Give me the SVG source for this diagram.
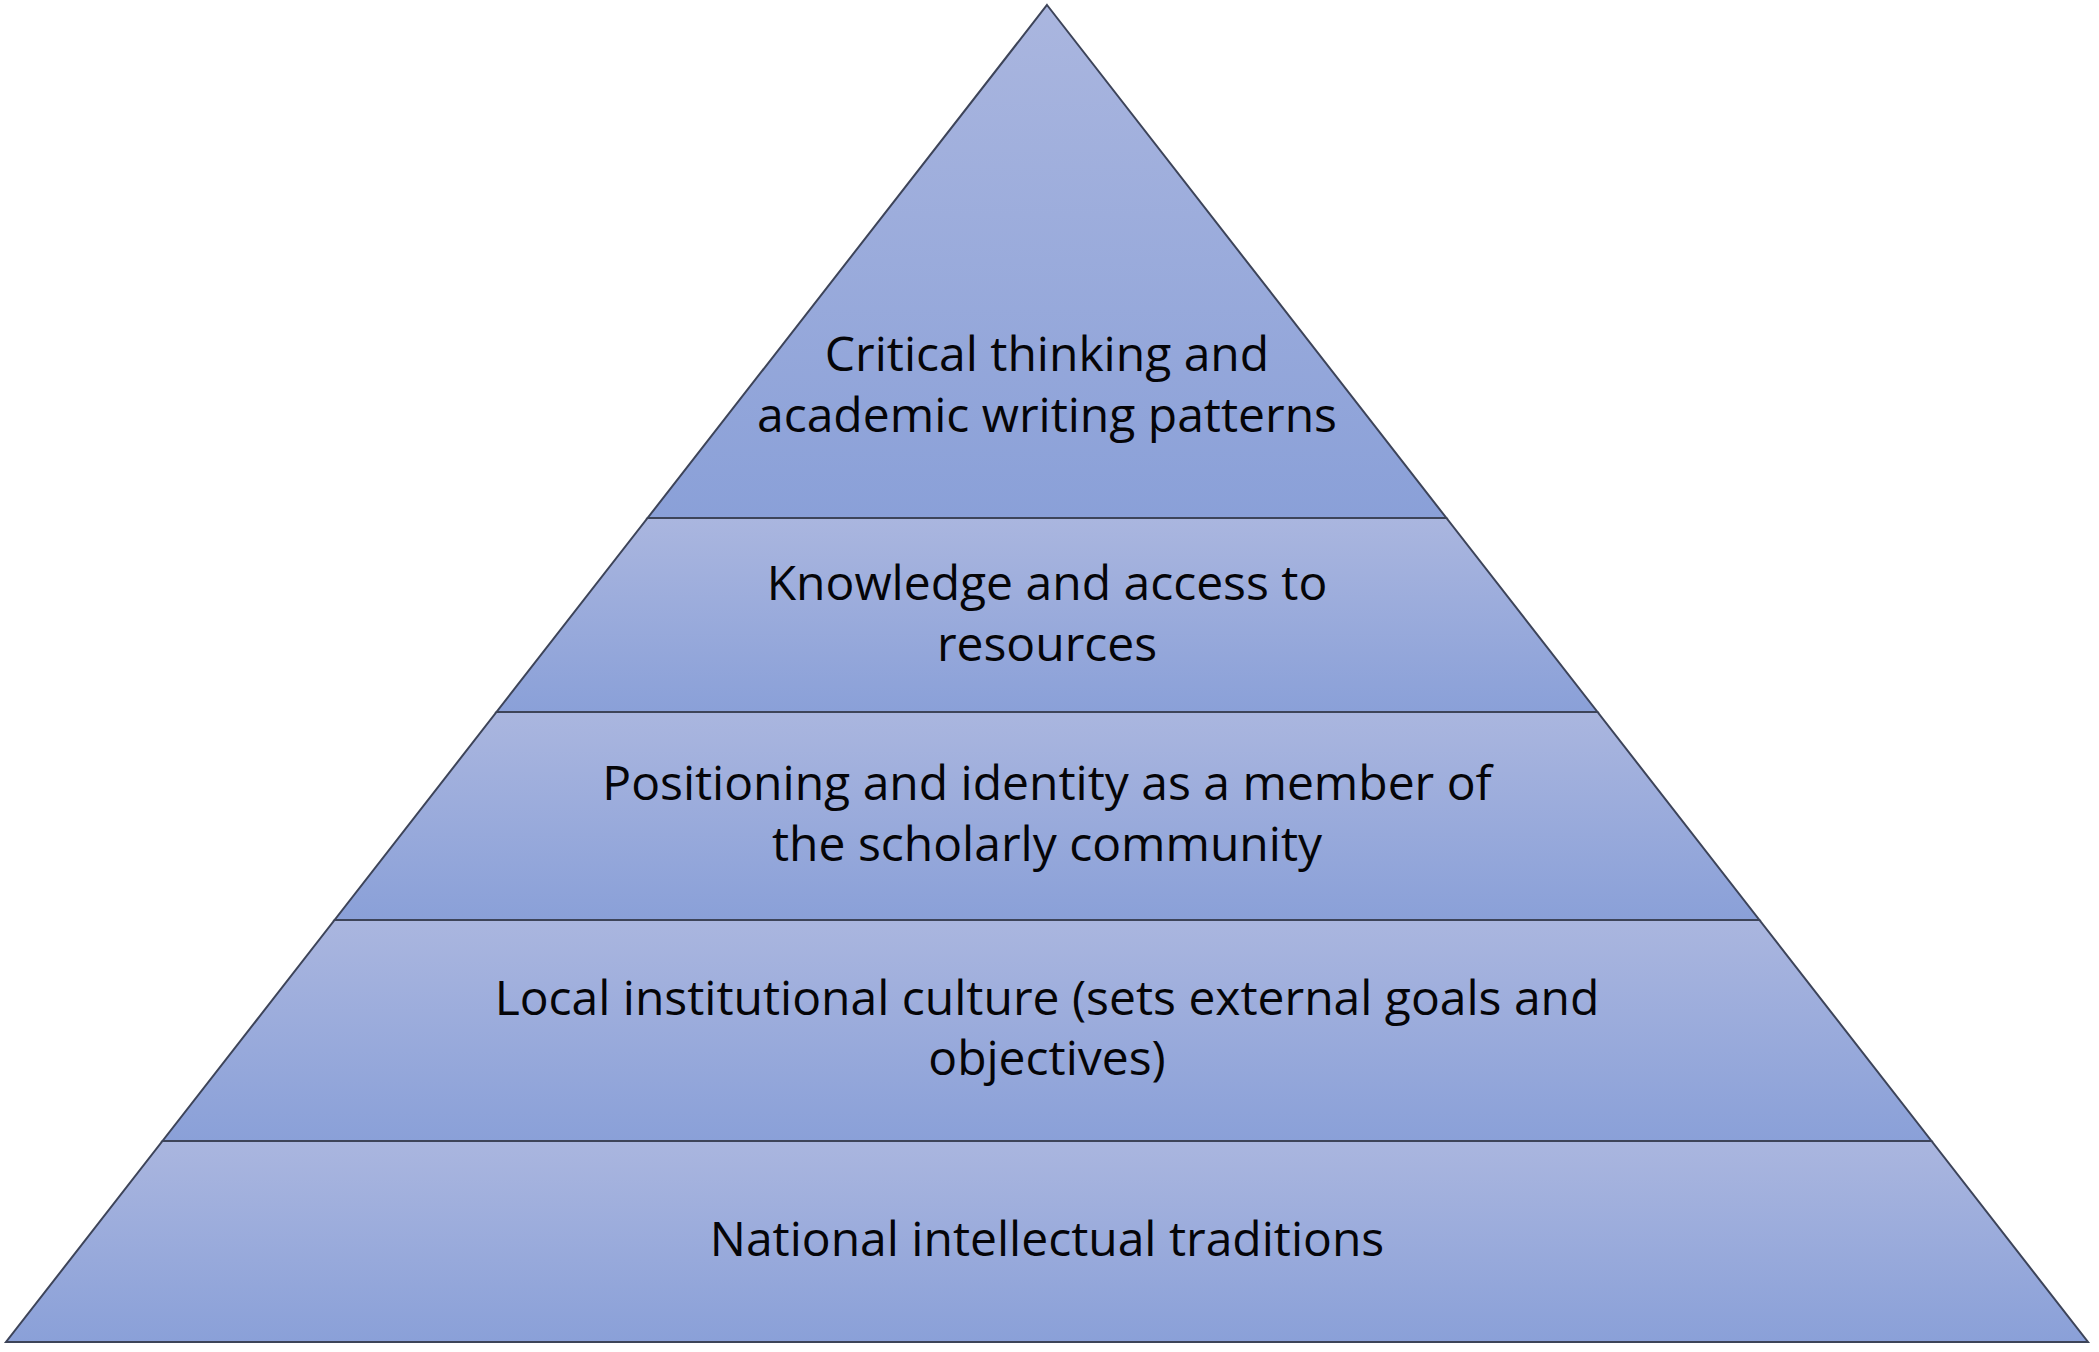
<svg xmlns="http://www.w3.org/2000/svg" width="2099" height="1352" viewBox="0 0 2099 1352">
  <defs>
    <linearGradient id="bandFill" x1="0" y1="0" x2="0" y2="1">
      <stop offset="0" stop-color="#aab6df"/>
      <stop offset="1" stop-color="#8aa0d8"/>
    </linearGradient>
    <style>
      .band { fill: url(#bandFill); stroke: #3d4459; stroke-width: 2; stroke-linejoin: miter; }
      .label { font-family: "Open Sans", "Liberation Sans", sans-serif; font-size: 48px; fill: #050508; text-anchor: middle; }
    </style>
  </defs>
  <rect width="2099" height="1352" fill="#ffffff"/>
  <g id="level-1">
    <polygon class="band" points="1047,5 1446.4,518 647.6,518"/>
    <text class="label" x="1047" y="371">Critical thinking and</text>
    <text class="label" x="1047" y="432">academic writing patterns</text>
  </g>
  <g id="level-2">
    <polygon class="band" points="647.6,518 1446.4,518 1597.5,712 496.5,712"/>
    <text class="label" x="1047" y="600">Knowledge and access to</text>
    <text class="label" x="1047" y="661">resources</text>
  </g>
  <g id="level-3">
    <polygon class="band" points="496.5,712 1597.5,712 1759.4,920 334.6,920"/>
    <text class="label" x="1047" y="800">Positioning and identity as a member of</text>
    <text class="label" x="1047" y="861">the scholarly community</text>
  </g>
  <g id="level-4">
    <polygon class="band" points="334.6,920 1759.4,920 1931.5,1141 162.5,1141"/>
    <text class="label" x="1047" y="1015">Local institutional culture (sets external goals and</text>
    <text class="label" x="1047" y="1075">objectives)</text>
  </g>
  <g id="level-5">
    <polygon class="band" points="162.5,1141 1931.5,1141 2088,1342 6,1342"/>
    <text class="label" x="1047" y="1256">National intellectual traditions</text>
  </g>
  <g id="connectors"/>
</svg>
